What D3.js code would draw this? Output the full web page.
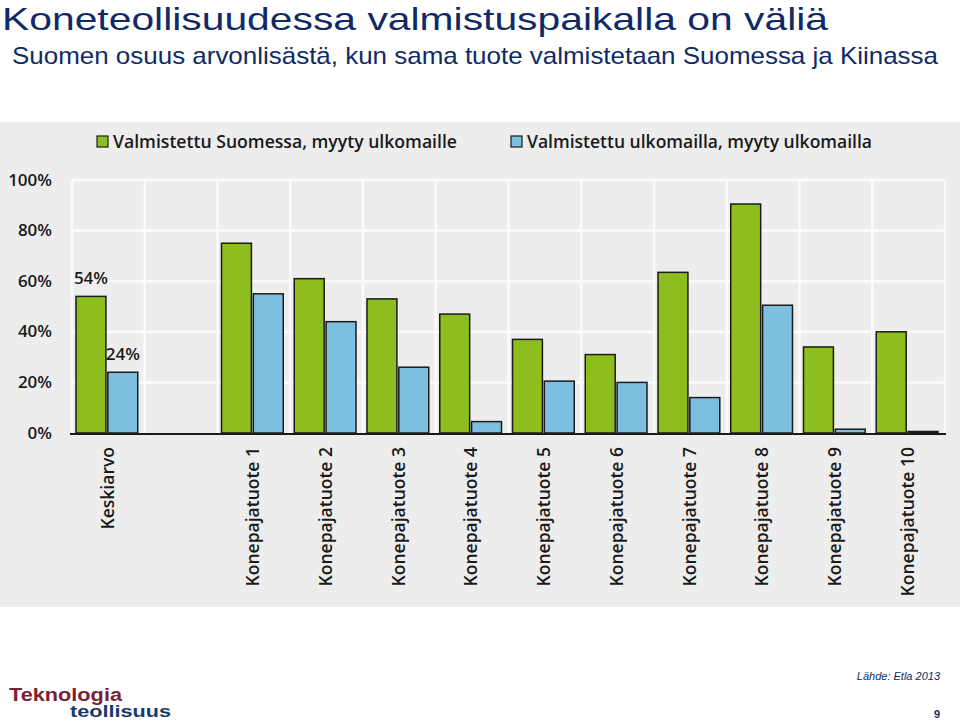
<!DOCTYPE html>
<html>
<head>
<meta charset="utf-8">
<script src="https://cdn.jsdelivr.net/npm/d3@7"></script>
<style>
  body { margin: 0; background: #fff; }
  svg { display: block; }
</style>
</head>
<body>
<div id="chart"></div>
<script>
// data
var categories = ["Keskiarvo", "Konepajatuote 1", "Konepajatuote 2", "Konepajatuote 3", "Konepajatuote 4",
  "Konepajatuote 5", "Konepajatuote 6", "Konepajatuote 7", "Konepajatuote 8", "Konepajatuote 9", "Konepajatuote 10"];
var seriesNames = ["Valmistettu Suomessa, myyty ulkomaille", "Valmistettu ulkomailla, myyty ulkomailla"];
var finland = [54, 75, 61, 53, 47, 37, 31, 63.5, 90.5, 34, 40];
var abroad = [24, 55, 44, 26, 4.5, 20.5, 20, 14, 50.5, 1.5, 0.6];
var yTicks = [0, 20, 40, 60, 80, 100];
var valueLabels = [{ cat: "Keskiarvo", s: 0, text: "54%" }, { cat: "Keskiarvo", s: 1, text: "24%" }];

var width = 960, height = 722;
var colors = ["#8dbd1e", "#7dbfe0"];
var navy = "#0f2a66";
var chartFont = "'Open Sans', sans-serif";
var slideFont = "'Liberation Sans', Arial, sans-serif";

var svg = d3.select("#chart").append("svg").attr("width", width).attr("height", height);

// titles (the slide text is a bit stretched, so fit the widths)
svg.append("text").attr("x", 2).attr("y", 30)
  .attr("font-family", slideFont).attr("font-size", 32)
  .attr("textLength", 826).attr("lengthAdjust", "spacingAndGlyphs")
  .attr("fill", navy).text("Koneteollisuudessa valmistuspaikalla on väliä");
svg.append("text").attr("x", 12).attr("y", 64)
  .attr("font-family", slideFont).attr("font-size", 24)
  .attr("textLength", 926).attr("lengthAdjust", "spacingAndGlyphs")
  .attr("fill", navy).text("Suomen osuus arvonlisästä, kun sama tuote valmistetaan Suomessa ja Kiinassa");

// scanned figure background
svg.append("rect").attr("x", 0).attr("y", 122).attr("width", 960).attr("height", 485).attr("fill", "#ededed");

// one empty slot after the average
var slots = [categories[0], "_gap"].concat(categories.slice(1));
var x = d3.scaleBand().domain(slots).range([72, 945]);
var xs = d3.scaleBand().domain([0, 1]).range([4, x.bandwidth() - 7]).paddingInner(0.06);
var y = d3.scaleLinear().domain([0, 100]).range([433, 180]);

var g = svg.append("g");

// white grid
g.selectAll("line.h").data(yTicks.filter(function(d) { return d > 0; })).enter().append("line")
  .attr("x1", 72).attr("x2", 945)
  .attr("y1", function(d) { return y(d); }).attr("y2", function(d) { return y(d); })
  .attr("stroke", "#fbfbfb").attr("stroke-width", 2.5);
g.selectAll("line.v").data(slots.concat(["end"])).enter().append("line")
  .attr("x1", function(d, i) { return i < slots.length ? x(d) : 945; })
  .attr("x2", function(d, i) { return i < slots.length ? x(d) : 945; })
  .attr("y1", y(100)).attr("y2", y(0))
  .attr("stroke", "#fbfbfb").attr("stroke-width", 2.5);

// y axis labels
var yAxis = svg.append("g").attr("transform", "translate(52,0)")
  .call(d3.axisLeft(y).tickValues(yTicks).tickSize(0).tickPadding(0).tickFormat(function(d) { return d + "%"; }));
yAxis.select(".domain").remove();
yAxis.selectAll("text").attr("font-family", chartFont).attr("font-size", 17).attr("font-weight", 600)
  .attr("fill", "#1a1a1a").attr("dy", "0.3em");

// bars
var rows = [];
categories.forEach(function(c, i) {
  rows.push({ cat: c, s: 0, v: finland[i] });
  rows.push({ cat: c, s: 1, v: abroad[i] });
});
g.selectAll("rect.bar").data(rows).enter().append("rect")
  .attr("x", function(d) { return x(d.cat) + xs(d.s); })
  .attr("width", xs.bandwidth())
  .attr("y", function(d) { return y(d.v); })
  .attr("height", function(d) { return y(0) - y(d.v); })
  .attr("fill", function(d) { return d.v < 1 ? "#444" : colors[d.s]; })
  .attr("stroke", "#1b1b1b").attr("stroke-width", 1.5);

// baseline
g.append("line").attr("x1", 70).attr("x2", 946).attr("y1", y(0) + 1).attr("y2", y(0) + 1)
  .attr("stroke", "#1b1b1b").attr("stroke-width", 2);

// value labels
g.selectAll("text.val").data(valueLabels).enter().append("text")
  .attr("x", function(d) { return x(d.cat) + xs(d.s) + xs.bandwidth() / 2; })
  .attr("y", function(d) { return y(d.s === 0 ? finland[0] : abroad[0]) - 12; })
  .attr("text-anchor", "middle")
  .attr("font-family", chartFont).attr("font-size", 17).attr("font-weight", 600).attr("fill", "#1a1a1a")
  .text(function(d) { return d.text; });

// category labels, rotated
g.selectAll("text.cat").data(categories).enter().append("text")
  .attr("transform", function(d) { return "translate(" + (x(d) + x.bandwidth() / 2 - 1) + ",447) rotate(-90)"; })
  .attr("text-anchor", "end").attr("dy", "0.35em")
  .attr("font-family", chartFont).attr("font-size", 17.5).attr("font-weight", 600).attr("fill", "#1a1a1a")
  .text(function(d) { return d; });

// legend
var legendX = [97, 511], legendLen = [344, 345];
var lg = svg.selectAll("g.leg").data(seriesNames).enter().append("g")
  .attr("transform", function(d, i) { return "translate(" + legendX[i] + ",136)"; });
lg.append("rect").attr("width", 11).attr("height", 11)
  .attr("fill", function(d, i) { return colors[i]; }).attr("stroke", "#1b1b1b").attr("stroke-width", 1.2);
lg.append("text").attr("x", 16).attr("y", 12)
  .attr("font-family", chartFont).attr("font-size", 18).attr("font-weight", 600).attr("fill", "#1a1a1a")
  .attr("textLength", function(d, i) { return legendLen[i]; }).attr("lengthAdjust", "spacingAndGlyphs")
  .text(function(d) { return d; });

// footer
svg.append("text").attr("x", 940).attr("y", 680).attr("text-anchor", "end")
  .attr("font-family", slideFont).attr("font-size", 11).attr("font-style", "italic")
  .attr("fill", navy).text("Lähde: Etla 2013");
svg.append("text").attr("x", 940).attr("y", 718).attr("text-anchor", "end")
  .attr("font-family", slideFont).attr("font-size", 11).attr("font-weight", "bold")
  .attr("fill", navy).text("9");
svg.append("text").attr("x", 9).attr("y", 701)
  .attr("font-family", slideFont).attr("font-size", 18).attr("font-weight", "bold")
  .attr("fill", "#7b1f35").attr("textLength", 113).attr("lengthAdjust", "spacingAndGlyphs").text("Teknologia");
svg.append("text").attr("x", 70).attr("y", 717)
  .attr("font-family", slideFont).attr("font-size", 16.5).attr("font-weight", "bold")
  .attr("fill", "#173a6e").attr("textLength", 101).attr("lengthAdjust", "spacingAndGlyphs").text("teollisuus");
</script>
</body>
</html>
